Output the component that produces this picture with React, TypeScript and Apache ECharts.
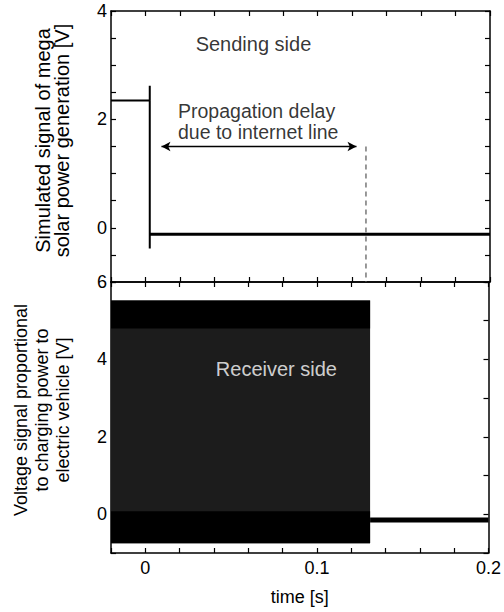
import React, { useEffect, useRef } from "react";
import * as echarts from "echarts";

// ---- data ----
// time axis
const timeMin = -0.02;
const timeMax = 0.2;
const timeStep = 0.02;

// Sending side (top panel): step down of the simulated mega-solar signal
const sendPulseT = [-0.02, 0.0025, 0.0025, 0.0025];
const sendPulseV = [2.35, 2.35, 2.62, -0.38];
const sendBaseT = [0.0025, 0.2];
const sendBaseV = [-0.12, -0.12];

// Propagation delay marker
const delayMarkT = [0.128, 0.128];
const delayMarkV = [1.5, -1];
const arrowT = [0.0093, 0.1225];
const arrowV = 1.5;

// Receiver side (bottom panel): dense PWM envelope until the delay ends
const pwmT = [-0.02, 0.131];
const pwmHighTop = [5.52, 5.52];
const pwmHighBottom = [4.8, 4.8];
const pwmLowTop = [0.08, 0.08];
const pwmLowBottom = [-0.75, -0.75];
const recvRestT = [0.131, 0.2];
const recvRestV = [-0.15, -0.15];

// axes
const topYMin = -1;
const topYMax = 4;
const topYStep = 0.5;
const botYMin = -1;
const botYMax = 6;
const botYStep = 1;
const yLabelStep = 2;

// texts
const sendingLabel = { t: 0.0627, v: 3.4, text: "Sending side" };
const delayLine1 = { t: 0.0186, v: 2.15, text: "Propagation delay" };
const delayLine2 = { t: 0.0186, v: 1.77, text: "due to internet line" };
const receiverLabel = { t: 0.0764, v: 3.75, text: "Receiver side" };
const xName = "time [s]";
const topYName = "Simulated signal of mega\nsolar power generation [V]";
const botYName = "Voltage signal proportional\nto charging power to\nelectric vehicle [V]";

const FONT = '"Liberation Sans", Arial, Helvetica, sans-serif';

const zip = (t: number[], v: number[]) => t.map((x, i) => [x, v[i]]);

export default function App() {
  const ref = useRef<HTMLDivElement>(null);
  useEffect(() => {
    if (!ref.current) return;
    const chart = echarts.init(ref.current, undefined, { renderer: "svg" });

    const axisLine = { show: true, onZero: false, lineStyle: { color: "#000", width: 1.5 } };
    const tickStyle = { show: true, inside: true, length: 5, lineStyle: { color: "#000", width: 1.2 } };
    const yFmt = (v: number) => (Math.abs(v % yLabelStep) < 1e-9 ? String(v) : "");
    const xFmt = (v: number) => {
      const r = Math.round(v * 10) / 10;
      return Math.abs(v - r) < 1e-6 ? String(r) : "";
    };
    const xBase = {
      type: "value",
      min: timeMin,
      max: timeMax,
      interval: timeStep,
      splitLine: { show: false },
      axisLine,
      axisTick: tickStyle,
    };

    const labelScatter = (
      lab: { t: number; v: number; text: string },
      color: string,
      align: string,
      xi: number,
      yi: number,
      size: number
    ) => ({
      type: "scatter",
      xAxisIndex: xi,
      yAxisIndex: yi,
      symbolSize: 1,
      itemStyle: { color: "transparent" },
      silent: true,
      data: [[lab.t, lab.v]],
      label: {
        show: true,
        position: align === "left" ? "right" : "inside",
        distance: 0,
        align,
        verticalAlign: "middle",
        formatter: lab.text,
        color,
        fontSize: size,
        lineHeight: size,
        fontFamily: FONT,
      },
    });

    const option: any = {
      animation: false,
      backgroundColor: "#fff",
      textStyle: { fontFamily: FONT },
      grid: [
        { left: 111, top: 11, width: 379, height: 271 },
        { left: 111, top: 282, width: 379, height: 271 },
      ],
      xAxis: [
        { ...xBase, gridIndex: 0, position: "bottom", axisLabel: { show: false } },
        { ...xBase, gridIndex: 0, position: "top", axisLabel: { show: false } },
        {
          ...xBase,
          gridIndex: 1,
          position: "bottom",
          axisLabel: { show: true, formatter: xFmt, color: "#000", fontSize: 18, margin: 6, fontFamily: FONT },
          name: xName,
          nameLocation: "middle",
          nameGap: 35,
          nameTextStyle: { color: "#000", fontSize: 18, fontFamily: FONT },
        },
        { ...xBase, gridIndex: 1, position: "top", axisLabel: { show: false } },
      ],
      yAxis: [
        {
          type: "value",
          gridIndex: 0,
          position: "left",
          min: topYMin,
          max: topYMax,
          interval: topYStep,
          splitLine: { show: false },
          axisLine,
          axisTick: tickStyle,
          axisLabel: { formatter: yFmt, color: "#000", fontSize: 18, margin: 4, fontFamily: FONT },
          name: topYName,
          nameLocation: "middle",
          nameGap: 40,
          nameTextStyle: { color: "#000", fontSize: 20, lineHeight: 19, fontFamily: FONT, padding: [0, 0, 0, 12] },
        },
        {
          type: "value",
          gridIndex: 0,
          position: "right",
          min: topYMin,
          max: topYMax,
          interval: topYStep,
          splitLine: { show: false },
          axisLine,
          axisTick: tickStyle,
          axisLabel: { show: false },
        },
        {
          type: "value",
          gridIndex: 1,
          position: "left",
          min: botYMin,
          max: botYMax,
          interval: botYStep,
          splitLine: { show: false },
          axisLine,
          axisTick: tickStyle,
          axisLabel: { formatter: yFmt, color: "#000", fontSize: 18, margin: 4, fontFamily: FONT },
          name: botYName,
          nameLocation: "middle",
          nameGap: 38,
          nameTextStyle: { color: "#000", fontSize: 18, lineHeight: 21, fontFamily: FONT, padding: [0, 0, 0, 15] },
        },
        {
          type: "value",
          gridIndex: 1,
          position: "right",
          min: botYMin,
          max: botYMax,
          interval: botYStep,
          splitLine: { show: false },
          axisLine,
          axisTick: tickStyle,
          axisLabel: { show: false },
        },
      ],
      series: [
        {
          type: "line",
          xAxisIndex: 0,
          yAxisIndex: 0,
          data: zip(sendPulseT, sendPulseV),
          symbol: "none",
          lineStyle: { color: "#000", width: 2 },
          silent: true,
        },
        {
          type: "line",
          xAxisIndex: 0,
          yAxisIndex: 0,
          data: zip(sendBaseT, sendBaseV),
          symbol: "none",
          lineStyle: { color: "#000", width: 3 },
          silent: true,
        },
        {
          type: "line",
          xAxisIndex: 0,
          yAxisIndex: 0,
          data: zip(delayMarkT, delayMarkV),
          symbol: "none",
          lineStyle: { color: "#777", width: 1.5, type: [5, 4] },
          silent: true,
          markLine: {
            silent: true,
            symbol: ["arrow", "arrow"],
            symbolSize: [7, 9],
            lineStyle: { color: "#000", width: 1.3, type: "solid" },
            label: { show: false },
            data: [[{ coord: [arrowT[0], arrowV] }, { coord: [arrowT[1], arrowV] }]],
          },
        },
        labelScatter(sendingLabel, "#000", "center", 0, 0, 20),
        labelScatter(delayLine1, "#000", "left", 0, 0, 19.5),
        labelScatter(delayLine2, "#000", "left", 0, 0, 19.5),
        {
          type: "custom",
          xAxisIndex: 2,
          yAxisIndex: 2,
          silent: true,
          clip: true,
          data: [[pwmT[0], pwmHighTop[0]]],
          encode: { x: 0, y: 1 },
          renderItem: (params: any, api: any) => {
            const band = (lo: number[], hi: number[], fill: string) => {
              const top = pwmT.map((t, i) => api.coord([t, hi[i]]));
              const bot = pwmT.map((t, i) => api.coord([t, lo[i]])).reverse();
              return { type: "polygon", shape: { points: [...top, ...bot] }, style: { fill } };
            };
            return {
              type: "group",
              children: [
                band(pwmLowBottom, pwmHighTop, "#1c1c1c"),
                band(pwmHighBottom, pwmHighTop, "#000"),
                band(pwmLowBottom, pwmLowTop, "#000"),
              ],
            };
          },
        },
        {
          type: "line",
          xAxisIndex: 2,
          yAxisIndex: 2,
          data: zip(recvRestT, recvRestV),
          symbol: "none",
          lineStyle: { color: "#000", width: 5 },
          silent: true,
        },
        labelScatter(receiverLabel, "#fff", "center", 2, 2, 20),
      ],
    };
    chart.setOption(option);
    return () => chart.dispose();
  }, []);
  return (
    <div
      ref={ref}
      style={{ position: "absolute", left: 0, top: 0, width: 504, height: 612, background: "#fff" }}
    />
  );
}
